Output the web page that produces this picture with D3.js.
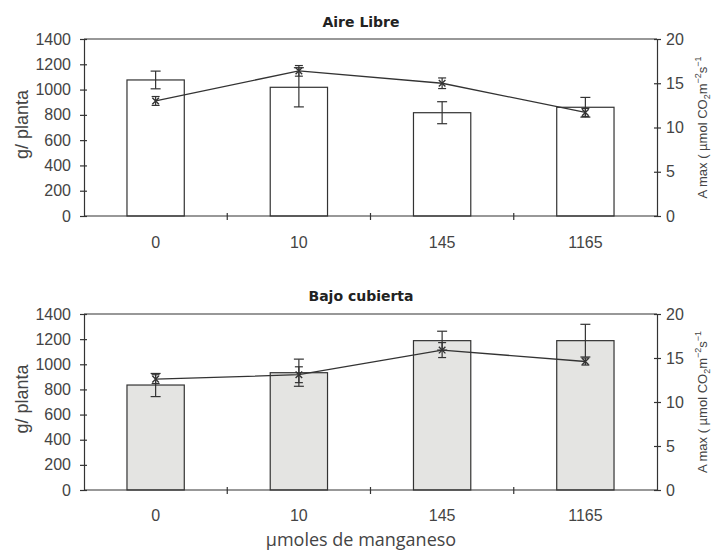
<!DOCTYPE html>
<html><head><meta charset="utf-8">
<script src="https://cdn.jsdelivr.net/npm/d3@7"></script>
<style>body{margin:0;background:#fff}svg{display:block}</style>
</head><body>
<script>
const categories = ["0", "10", "145", "1165"];
const leftTicks = [0, 200, 400, 600, 800, 1000, 1200, 1400];
const rightTicks = [0, 5, 10, 15, 20];
const titles = ["Aire Libre", "Bajo cubierta"];

const barsAire = [1076, 1018, 817, 860];
const barsAireErr = [70, 155, 87, 78];
const lineAire = [13.0, 16.4, 15.0, 11.7];
const lineAireErr = [0.5, 0.6, 0.6, 0.45];

const barsBajo = [835, 933, 1188, 1188];
const barsBajoErr = [92, 108, 75, 130];
const lineBajo = [12.6, 13.1, 15.9, 14.6];
const lineBajoErr = [0.5, 0.9, 0.85, 0.4];

const W = 713, H = 550;
const svg = d3.select("body").append("svg").attr("width", W).attr("height", H);

const panels = [
  {top: 39, bottom: 216, bars: barsAire, berr: barsAireErr, line: lineAire, lerr: lineAireErr, fill: "#ffffff", title: titles[0], titleY: 27, xLabY: 248},
  {top: 314, bottom: 490, bars: barsBajo, berr: barsBajoErr, line: lineBajo, lerr: lineBajoErr, fill: "#e4e4e2", title: titles[1], titleY: 301, xLabY: 521}
];
const left = 84, right = 657;
const ink = "#333";
const textCol = "#444";
const tickFont = "Liberation Sans, Arial, sans-serif";

panels.forEach(p => {
  const g = svg.append("g");
  const x = d3.scaleBand().domain(categories).range([left, right]).paddingInner(0.6).paddingOuter(0.3);
  const xb = d3.scaleBand().domain(categories).range([left, right]);
  const yL = d3.scaleLinear().domain([0, 1400]).range([p.bottom, p.top]);
  const yR = d3.scaleLinear().domain([0, 20]).range([p.bottom, p.top]);

  // bars
  g.selectAll("rect.bar").data(p.bars).join("rect")
    .attr("x", (d, i) => x(categories[i]))
    .attr("y", d => yL(d))
    .attr("width", x.bandwidth())
    .attr("height", d => p.bottom - yL(d))
    .attr("fill", p.fill).attr("stroke", ink).attr("stroke-width", 1.2);

  const cx = i => xb(categories[i]) + xb.bandwidth() / 2;

  // bar error bars
  p.bars.forEach((d, i) => {
    const e = p.berr[i];
    g.append("line").attr("x1", cx(i)).attr("x2", cx(i)).attr("y1", yL(d + e)).attr("y2", yL(d - e)).attr("stroke", ink).attr("stroke-width", 1.2);
    [d + e, d - e].forEach(v => g.append("line").attr("x1", cx(i) - 5).attr("x2", cx(i) + 5).attr("y1", yL(v)).attr("y2", yL(v)).attr("stroke", ink).attr("stroke-width", 1.2));
  });

  // frame
  g.append("line").attr("x1", left).attr("x2", right).attr("y1", p.top).attr("y2", p.top).attr("stroke", ink).attr("stroke-width", 1.2);

  // axes
  const axL = d3.axisLeft(yL).tickValues(leftTicks).tickFormat(d3.format("d")).tickSizeInner(5).tickSizeOuter(0).tickPadding(8);
  const gl = g.append("g").attr("transform", `translate(${left},0)`).call(axL);
  const axR = d3.axisRight(yR).tickValues(rightTicks).tickFormat(d3.format("d")).tickSizeInner(5).tickSizeOuter(0).tickPadding(4);
  const gr = g.append("g").attr("transform", `translate(${right},0)`).call(axR);
  [gl, gr].forEach(a => {
    a.select(".domain").attr("stroke", ink).attr("stroke-width", 1.2);
    a.selectAll(".tick line").attr("stroke", ink).attr("stroke-width", 1.2);
    a.selectAll(".tick text").attr("fill", textCol).style("font-family", tickFont).style("font-size", "16px");
  });
  // ticks crossing axes
  gl.selectAll(".tick line").attr("x1", 3).attr("x2", -4);
  gr.selectAll(".tick line").attr("x1", -3).attr("x2", 4);

  // bottom axis
  g.append("line").attr("x1", left).attr("x2", right).attr("y1", p.bottom).attr("y2", p.bottom).attr("stroke", ink).attr("stroke-width", 1.2);
  const bounds = categories.slice(1).map(c => xb(c));
  g.selectAll("line.xt").data(bounds).join("line")
    .attr("x1", d => d).attr("x2", d => d).attr("y1", p.bottom - 3).attr("y2", p.bottom + 4)
    .attr("stroke", ink).attr("stroke-width", 1.2);
  g.selectAll("text.xl").data(categories).join("text")
    .attr("x", (d, i) => cx(i)).attr("y", p.xLabY).attr("text-anchor", "middle")
    .attr("fill", textCol).style("font-family", tickFont).style("font-size", "16px")
    .text(d => d);

  // line series
  const lineGen = d3.line().x((d, i) => cx(i)).y(d => yR(d));
  g.append("path").datum(p.line).attr("d", lineGen).attr("fill", "none").attr("stroke", ink).attr("stroke-width", 1.3);
  p.line.forEach((d, i) => {
    const e = p.lerr[i];
    g.append("line").attr("x1", cx(i)).attr("x2", cx(i)).attr("y1", yR(d + e)).attr("y2", yR(d - e)).attr("stroke", ink).attr("stroke-width", 1.2);
    [d + e, d - e].forEach(v => g.append("line").attr("x1", cx(i) - 4).attr("x2", cx(i) + 4).attr("y1", yR(v)).attr("y2", yR(v)).attr("stroke", ink).attr("stroke-width", 1.2));
  });
  g.selectAll("path.mk").data(p.line).join("path")
    .attr("transform", (d, i) => `translate(${cx(i)},${yR(d)})`)
    .attr("d", d3.symbol().type(d3.symbolX).size(30))
    .attr("stroke", ink).attr("stroke-width", 1.4).attr("fill", "none");

  // title
  g.append("text").attr("x", 361).attr("y", p.titleY).attr("text-anchor", "middle")
    .style("font-family", "'DejaVu Sans', Verdana, sans-serif").style("font-weight", "bold").style("font-size", "14px")
    .attr("fill", "#222").text(p.title);

  // left label
  const ym = (p.top + p.bottom) / 2;
  g.append("text").attr("transform", `translate(28,${ym - 3}) rotate(-90)`).attr("text-anchor", "middle")
    .style("font-family", tickFont).style("font-size", "18px").attr("fill", textCol)
    .text("g/ planta");

  // right label
  const rl = g.append("text").attr("transform", `translate(707,${ym}) rotate(-90)`).attr("text-anchor", "middle")
    .style("font-family", tickFont).style("font-size", "13px").attr("fill", textCol);
  rl.append("tspan").text("A max ( µmol CO");
  rl.append("tspan").attr("dy", 3).style("font-size", "9px").text("2");
  rl.append("tspan").attr("dy", -3).text("m");
  rl.append("tspan").attr("dy", -6).style("font-size", "9px").text("−2");
  rl.append("tspan").attr("dy", 6).text("s");
  rl.append("tspan").attr("dy", -6).style("font-size", "9px").text("−1");
});

svg.append("text").attr("x", 361).attr("y", 546).attr("text-anchor", "middle")
  .style("font-family", "'Open Sans', Lato, sans-serif").style("font-size", "18px").attr("fill", "#444")
  .text("µmoles de manganeso");
</script>
</body></html>
